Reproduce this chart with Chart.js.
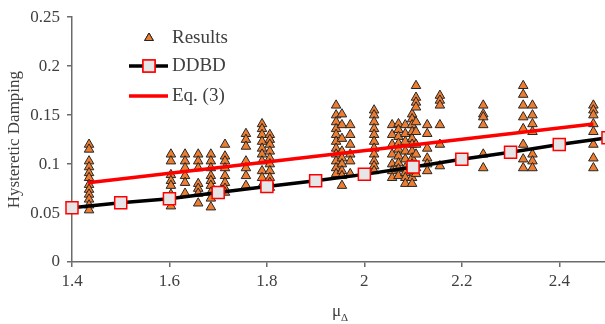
<!DOCTYPE html>
<html>
<head>
<meta charset="utf-8">
<script src="https://cdn.jsdelivr.net/npm/chart.js@4.4.1/dist/chart.umd.min.js"></script>
<style>
  html, body { margin: 0; padding: 0; background: #fff; overflow: hidden; }
  #wrap { width: 608px; height: 324px; position: relative; }
</style>
</head>
<body>
<div id="wrap"><canvas id="dampingChart"></canvas></div>
<script>
// Results: one column of points per mu value
const resultMu = [1.435, 1.603, 1.632, 1.659, 1.685, 1.714, 1.757, 1.79, 1.806,
    1.942, 1.954, 1.971, 2.02, 2.057, 2.07, 2.084, 2.098, 2.106, 2.129, 2.155,
    2.244, 2.326, 2.345, 2.47];
const resultDamping = [
    [0.12, 0.115, 0.103, 0.097, 0.091, 0.086, 0.079, 0.074, 0.069, 0.064, 0.058, 0.053],
    [0.11, 0.103, 0.089, 0.083, 0.078, 0.069, 0.057],
    [0.11, 0.103, 0.096, 0.088, 0.081, 0.07],
    [0.11, 0.103, 0.096, 0.08, 0.075, 0.07, 0.06],
    [0.11, 0.103, 0.096, 0.088, 0.083, 0.078, 0.071, 0.065, 0.056],
    [0.12, 0.108, 0.103, 0.096, 0.088, 0.081, 0.075, 0.071],
    [0.131, 0.125, 0.118, 0.103, 0.096, 0.088, 0.078],
    [0.141, 0.136, 0.13, 0.123, 0.116, 0.11, 0.103, 0.093, 0.086, 0.078],
    [0.13, 0.125, 0.12, 0.113, 0.106, 0.1, 0.093, 0.086, 0.081, 0.076],
    [0.16, 0.15, 0.143, 0.136, 0.13, 0.123, 0.116, 0.11, 0.103, 0.096, 0.09],
    [0.151, 0.14, 0.126, 0.113, 0.106, 0.1, 0.093, 0.088, 0.078],
    [0.14, 0.13, 0.12, 0.11, 0.103, 0.09],
    [0.155, 0.15, 0.143, 0.136, 0.13, 0.123, 0.116, 0.11, 0.103, 0.098, 0.093],
    [0.14, 0.13, 0.12, 0.11, 0.1, 0.093, 0.086],
    [0.141, 0.135, 0.128, 0.121, 0.115, 0.108, 0.101, 0.095, 0.088],
    [0.14, 0.131, 0.123, 0.113, 0.105, 0.096, 0.091, 0.086, 0.08],
    [0.151, 0.146, 0.14, 0.133, 0.126, 0.12, 0.113, 0.106, 0.1, 0.093, 0.086, 0.08],
    [0.18, 0.168, 0.163, 0.158, 0.143, 0.133, 0.12, 0.11, 0.096, 0.09],
    [0.14, 0.131, 0.116, 0.106, 0.1, 0.093],
    [0.17, 0.165, 0.16, 0.14, 0.12, 0.098],
    [0.16, 0.151, 0.148, 0.14, 0.11, 0.096],
    [0.18, 0.171, 0.16, 0.148, 0.136, 0.12, 0.105, 0.096],
    [0.16, 0.15, 0.141, 0.133, 0.11, 0.103, 0.096],
    [0.16, 0.155, 0.15, 0.141, 0.133, 0.12, 0.106, 0.096]
];

// DDBD curve
const ddbdMu = [1.4, 1.5, 1.6, 1.7, 1.8, 1.9, 2.0, 2.1, 2.2, 2.3, 2.4, 2.5];
const ddbdDamping = [0.0555, 0.0605, 0.0645, 0.071, 0.077, 0.083, 0.0895, 0.097, 0.105, 0.112, 0.12, 0.127];

// Eq. (3) line
const eqMu = [1.433, 2.47];
const eqDamping = [0.081, 0.141];

// Axis ticks
const xTicks = [1.4, 1.6, 1.8, 2.0, 2.2, 2.4];
const yTicks = [0, 0.05, 0.1, 0.15, 0.2, 0.25];

const FONT = "'Liberation Serif', 'Times New Roman', serif";
const TEXT = '#404040';
const AXIS = '#6b6b6b';

const resultPoints = [];
resultMu.forEach((mu, i) => {
    resultDamping[i].forEach(d => resultPoints.push({ x: mu, y: d }));
});
const ddbdPoints = ddbdMu.map((mu, i) => ({ x: mu, y: ddbdDamping[i] }));
const eqPoints = eqMu.map((mu, i) => ({ x: mu, y: eqDamping[i] }));

// Legend drawn inside the plot, plus the mu-Delta axis title
const overlay = {
    id: 'overlay',
    afterDraw(chart) {
        const ctx = chart.ctx;
        const h = Chart.helpers;
        ctx.save();
        ctx.font = `19px ${FONT}`;
        ctx.fillStyle = TEXT;
        ctx.textBaseline = 'middle';
        ctx.textAlign = 'left';

        // Results
        ctx.fillStyle = '#ED7D31';
        ctx.strokeStyle = '#262626';
        ctx.lineWidth = 1;
        h.drawPoint(ctx, { pointStyle: 'triangle', radius: 5, rotation: 0, borderWidth: 1 }, 149, 38);
        ctx.fill(); ctx.stroke();
        ctx.fillStyle = TEXT;
        ctx.fillText('Results', 172, 38);

        // DDBD
        ctx.beginPath();
        ctx.strokeStyle = '#000';
        ctx.lineWidth = 3.5;
        ctx.moveTo(129, 66); ctx.lineTo(168, 66);
        ctx.stroke();
        ctx.fillStyle = '#E6E6E6';
        ctx.strokeStyle = '#FF0000';
        ctx.lineWidth = 1.5;
        h.drawPoint(ctx, { pointStyle: 'rect', radius: 8.5, rotation: 0, borderWidth: 1.5 }, 149, 66);
        ctx.fill(); ctx.stroke();
        ctx.fillStyle = TEXT;
        ctx.fillText('DDBD', 172, 66);

        // Eq. (3)
        ctx.beginPath();
        ctx.strokeStyle = '#FF0000';
        ctx.lineWidth = 3.5;
        ctx.moveTo(129, 96); ctx.lineTo(168, 96);
        ctx.stroke();
        ctx.fillText('Eq. (3)', 172, 96);

        // x axis title: mu with Delta subscript
        const cx = (chart.chartArea.left + chart.chartArea.right) / 2;
        ctx.textBaseline = 'alphabetic';
        ctx.font = `17px ${FONT}`;
        const muW = ctx.measureText('\u03bc').width;
        ctx.font = `11px ${FONT}`;
        const dW = ctx.measureText('\u0394').width;
        const x0 = cx - (muW + dW) / 2;
        ctx.font = `17px ${FONT}`;
        ctx.fillText('\u03bc', x0, 316);
        ctx.font = `11px ${FONT}`;
        ctx.fillText('\u0394', x0 + muW, 321);
        ctx.restore();
    }
};

new Chart(document.getElementById('dampingChart'), {
    type: 'scatter',
    data: {
        datasets: [
            {
                label: 'Results',
                data: resultPoints,
                pointStyle: 'triangle',
                pointRadius: 5.5,
                pointHoverRadius: 5.5,
                backgroundColor: '#ED7D31',
                borderColor: '#262626',
                borderWidth: 1,
                order: 3
            },
            {
                label: 'Eq. (3)',
                data: eqPoints,
                showLine: true,
                borderColor: '#FF0000',
                borderWidth: 3.5,
                pointRadius: 0,
                order: 2
            },
            {
                label: 'DDBD',
                data: ddbdPoints,
                showLine: true,
                borderColor: '#000000',
                borderWidth: 3.5,
                pointStyle: 'rect',
                pointRadius: 8.5,
                pointHoverRadius: 8.5,
                pointBackgroundColor: '#E6E6E6',
                pointBorderColor: '#FF0000',
                pointBorderWidth: 1.5,
                clip: false,
                order: 1
            }
        ]
    },
    options: {
        responsive: true,
        maintainAspectRatio: false,
        animation: false,
        layout: { autoPadding: false, padding: { left: 0, right: 0, top: 14, bottom: 0 } },
        plugins: {
            legend: { display: false },
            tooltip: { enabled: false }
        },
        scales: {
            x: {
                type: 'linear',
                min: 1.4,
                max: 2.5,
                afterBuildTicks: scale => { scale.ticks = xTicks.map(v => ({ value: v })); },
                afterFit: scale => { scale.height = 62; },
                grid: { display: true, drawOnChartArea: false, tickLength: 5, color: AXIS, lineWidth: 1.5 },
                border: { color: AXIS, width: 1.5 },
                ticks: {
                    color: TEXT,
                    padding: 4,
                    maxRotation: 0,
                    font: { family: FONT, size: 17 },
                    callback: v => String(Math.round(v * 10) / 10)
                }
            },
            y: {
                min: 0,
                max: 0.25,
                afterBuildTicks: scale => { scale.ticks = yTicks.map(v => ({ value: v })); },
                afterFit: scale => { scale.width = 72; },
                grid: { display: true, drawOnChartArea: false, tickLength: 5, color: AXIS, lineWidth: 1.5 },
                border: { color: AXIS, width: 1.5 },
                title: {
                    display: true,
                    text: 'Hysteretic Damping',
                    color: TEXT,
                    font: { family: FONT, size: 17 },
                    padding: { top: 4, bottom: 0 }
                },
                ticks: {
                    color: TEXT,
                    padding: 7,
                    font: { family: FONT, size: 17 },
                    callback: v => String(Math.round(v * 100) / 100)
                }
            }
        }
    },
    plugins: [overlay]
});
</script>
</body>
</html>
